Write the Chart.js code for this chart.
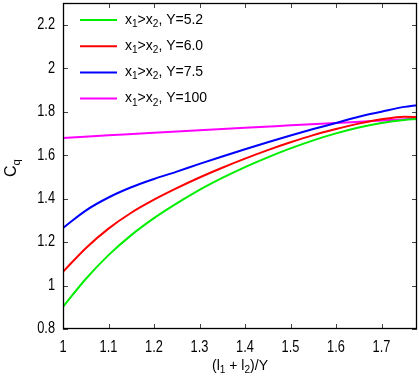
<!DOCTYPE html>
<html>
<head>
<meta charset="utf-8">
<script src="https://cdn.jsdelivr.net/npm/chart.js@4.4.1/dist/chart.umd.min.js"></script>
<style>
  html, body { margin: 0; padding: 0; background: #fff; }
</style>
</head>
<body>
<canvas id="chart" width="419" height="382"></canvas>
<script>
// x values, (l1 + l2)/Y
const xs = [1.00, 1.05, 1.10, 1.15, 1.20, 1.25, 1.30, 1.35, 1.40, 1.45, 1.50, 1.55, 1.60, 1.65, 1.70, 1.75, 1.778];
const cqY52 = [0.902, 1.030, 1.140, 1.232, 1.310, 1.378, 1.440, 1.495, 1.545, 1.590, 1.631, 1.668, 1.700, 1.727, 1.748, 1.762, 1.766];
const cqY60 = [1.063, 1.172, 1.262, 1.335, 1.395, 1.448, 1.497, 1.542, 1.584, 1.623, 1.659, 1.692, 1.720, 1.745, 1.765, 1.777, 1.775];
const cqY75 = [1.265, 1.345, 1.405, 1.452, 1.490, 1.524, 1.560, 1.594, 1.627, 1.659, 1.690, 1.720, 1.748, 1.777, 1.800, 1.822, 1.830];
const xsY100 = [1.0, 1.1, 1.2, 1.3, 1.4, 1.5, 1.6, 1.7, 1.778];
const cqY100 = [1.679, 1.691, 1.703, 1.714, 1.726, 1.737, 1.748, 1.759, 1.768];

const legendLabels = ["x_1>x_2, Y=5.2", "x_1>x_2, Y=6.0", "x_1>x_2, Y=7.5", "x_1>x_2, Y=100"];
const colors = ["#00ee00", "#ff0000", "#0000ff", "#ff00ff"];
const xTitle = "(l_1 + l_2)/Y";
const yTitle = "C_q";

const FONT = '"Liberation Sans", Arial, sans-serif';

const pts = (x, y) => x.map((v, i) => ({ x: v, y: y[i] }));
const series = [pts(xs, cqY52), pts(xs, cqY60), pts(xs, cqY75), pts(xsY100, cqY100)];

// text with one-char subscripts written as _c
function drawRich(ctx, str, x, y, size) {
  let cx = x;
  for (let i = 0; i < str.length; i++) {
    const sub = str[i] === "_";
    if (sub) i++;
    ctx.font = (sub ? size * 0.72 : size) + "px " + FONT;
    ctx.fillText(str[i], cx, sub ? y + size * 0.3 : y);
    cx += ctx.measureText(str[i]).width;
  }
  return cx - x;
}
function richWidth(ctx, str, size) {
  let w = 0;
  for (let i = 0; i < str.length; i++) {
    const sub = str[i] === "_";
    if (sub) i++;
    ctx.font = (sub ? size * 0.72 : size) + "px " + FONT;
    w += ctx.measureText(str[i]).width;
  }
  return w;
}

const fmt = v => String(+v.toFixed(1));

function narrowText(ctx, txt, x, y, align) {
  ctx.save();
  ctx.translate(x, y);
  ctx.scale(0.8, 1);
  ctx.textAlign = align;
  ctx.fillText(txt, 0, 0);
  ctx.restore();
}

const frame = {
  id: "frame",
  afterDraw(chart) {
    const { ctx, chartArea: a, scales } = chart;
    ctx.save();
    // inward ticks on all four sides
    ctx.strokeStyle = "#444";
    ctx.lineWidth = 1;
    ctx.beginPath();
    scales.x.ticks.forEach(t => {
      const px = Math.round(scales.x.getPixelForValue(t.value)) + 0.5;
      ctx.moveTo(px, a.bottom); ctx.lineTo(px, a.bottom - 5);
      ctx.moveTo(px, a.top); ctx.lineTo(px, a.top + 5);
    });
    scales.y.ticks.forEach(t => {
      const py = Math.round(scales.y.getPixelForValue(t.value)) + 0.5;
      ctx.moveTo(a.left, py); ctx.lineTo(a.left + 5, py);
      ctx.moveTo(a.right, py); ctx.lineTo(a.right - 5, py);
    });
    ctx.stroke();
    // border
    ctx.strokeStyle = "#000";
    ctx.lineWidth = 1.3;
    ctx.strokeRect(a.left + 0.5, a.top + 0.5, a.right - a.left - 1, a.bottom - a.top - 1);

    // tick labels
    ctx.fillStyle = "#000";
    ctx.textBaseline = "middle";
    ctx.font = "16px " + FONT;
    scales.x.ticks.forEach(t => {
      narrowText(ctx, fmt(t.value), scales.x.getPixelForValue(t.value), a.bottom + 19, "center");
    });
    scales.y.ticks.forEach(t => {
      narrowText(ctx, fmt(t.value), a.left - 8, scales.y.getPixelForValue(t.value), "right");
    });

    // legend
    ctx.textAlign = "left";
    legendLabels.forEach((lab, i) => {
      const y = 20 + i * 26.2;
      ctx.strokeStyle = colors[i];
      ctx.lineWidth = 2;
      ctx.beginPath();
      ctx.moveTo(80, y); ctx.lineTo(117, y);
      ctx.stroke();
      drawRich(ctx, lab, 125, y, 14);
    });

    // axis titles
    const w = richWidth(ctx, xTitle, 14);
    drawRich(ctx, xTitle, (a.left + a.right) / 2 - w / 2, 366, 14);
    ctx.translate(12, 168);
    ctx.rotate(-Math.PI / 2);
    const wy = richWidth(ctx, yTitle, 16);
    drawRich(ctx, yTitle, -wy / 2, 0, 16);
    ctx.restore();
  }
};

new Chart(document.getElementById("chart"), {
  type: "line",
  data: {
    datasets: series.map((d, i) => ({
      label: legendLabels[i],
      data: d,
      borderColor: colors[i],
      backgroundColor: colors[i],
      borderWidth: 2,
      pointRadius: 0,
      cubicInterpolationMode: "monotone",
      fill: false
    }))
  },
  options: {
    responsive: false,
    animation: false,
    layout: { padding: { top: 3, right: 2, left: 0, bottom: 0 } },
    plugins: { legend: { display: false }, tooltip: { enabled: false } },
    scales: {
      x: {
        type: "linear",
        min: 1,
        max: 1.778,
        grid: { display: false, drawTicks: false },
        border: { display: false },
        afterFit: s => { s.height = 53; },
        ticks: { display: false, stepSize: 0.1, includeBounds: false }
      },
      y: {
        type: "linear",
        min: 0.8,
        max: 2.3,
        grid: { display: false, drawTicks: false },
        border: { display: false },
        afterFit: s => { s.width = 63; },
        ticks: { display: false, stepSize: 0.2, includeBounds: false }
      }
    }
  },
  plugins: [frame]
});
</script>
</body>
</html>
